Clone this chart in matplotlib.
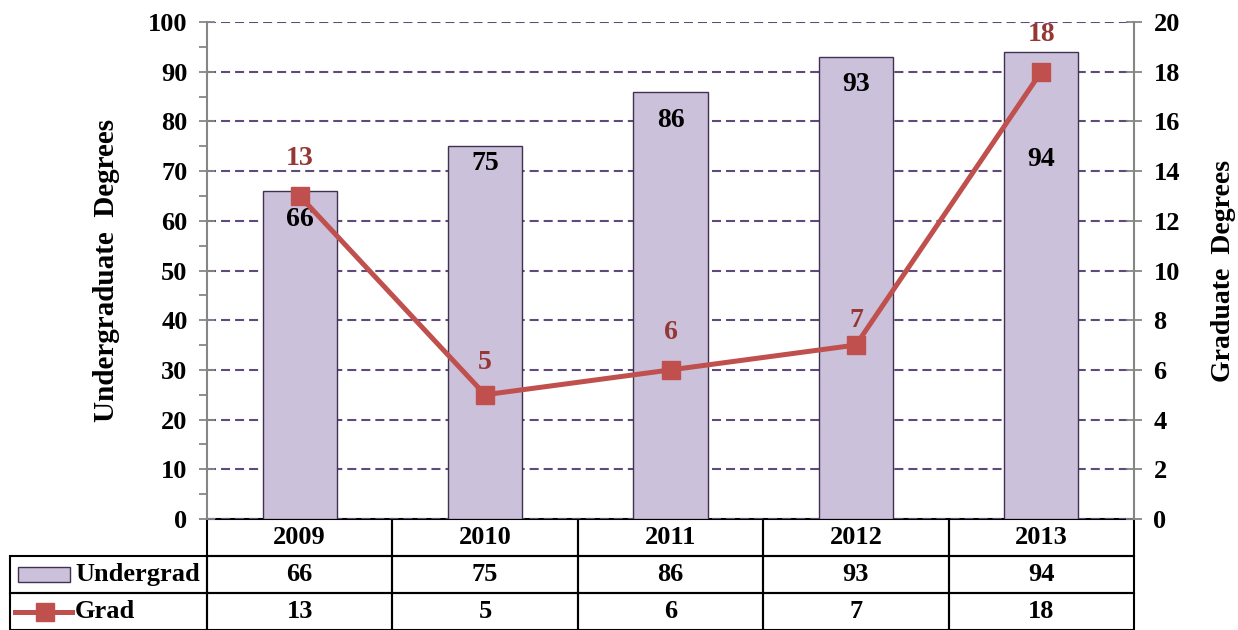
import matplotlib
matplotlib.use('Agg')
import matplotlib.pyplot as plt
from matplotlib.patches import Rectangle
from matplotlib.lines import Line2D
from matplotlib.table import Table
from matplotlib.ticker import MultipleLocator

plt.rcParams['font.family'] = ['Liberation Serif', 'DejaVu Serif']
plt.rcParams['font.weight'] = 'bold'
plt.rcParams['lines.scale_dashes'] = False

years = ['2009', '2010', '2011', '2012', '2013']
undergrad = [66, 75, 86, 93, 94]
grad = [13, 5, 6, 7, 18]
series_names = ['Undergrad', 'Grad']

bar_fill = '#CCC1DA'
bar_edge = '#403152'
line_col = '#C0504D'
grad_lbl = '#953735'
grid_col = '#604A7B'
spine_col = '#868686'

W, H = 1238, 630
fig = plt.figure(figsize=(W / 100, H / 100), dpi=100)
ax = fig.add_axes([207 / W, 1 - 519 / H, (1134 - 207) / W, (519 - 22) / H])
x = list(range(len(years)))

ax.bar(x, undergrad, width=0.4, color=bar_fill, edgecolor=bar_edge, linewidth=1, zorder=2)
ax.set_xlim(-0.5, len(years) - 0.5)
ax.set_ylim(0, 100)
ax.yaxis.set_major_locator(MultipleLocator(10))
ax.yaxis.set_minor_locator(MultipleLocator(5))
ax.set_xticks([])
ax.grid(axis='y', color=grid_col, linestyle=(0, (6.5, 3.6)), linewidth=1.5, zorder=0)
ax.set_axisbelow(True)
ax.tick_params(axis='y', which='major', direction='inout', length=12, width=1.3,
               color=spine_col, labelsize=19, pad=8)
ax.tick_params(axis='y', which='minor', direction='out', length=6, width=1.3, color=spine_col)
for s in ('top', 'bottom', 'right'):
    ax.spines[s].set_visible(False)
ax.spines['left'].set_color(spine_col)
ax.spines['left'].set_linewidth(1.5)
ax.set_ylabel('Undergraduate  Degrees', fontsize=21, fontweight='bold', labelpad=20)

# labels inside bars (Excel nudged some of them)
ub_offsets = [-29, -17, -29, -28, -108]
for xi, v, off in zip(x, undergrad, ub_offsets):
    ax.annotate(str(v), (xi, v), xytext=(0, off), textcoords='offset pixels',
                ha='center', va='center', fontsize=20, fontweight='bold', color='black')

ax2 = ax.twinx()
ax2.plot(x, grad, color=line_col, linewidth=3.6, marker='s', markersize=13.5,
         markerfacecolor=line_col, markeredgecolor=line_col, zorder=3)
ax2.set_ylim(0, 20)
ax2.yaxis.set_major_locator(MultipleLocator(2))
ax2.tick_params(axis='y', which='major', direction='inout', length=12, width=1.3,
                color=spine_col, labelsize=19, pad=8)
for s in ('top', 'bottom', 'left'):
    ax2.spines[s].set_visible(False)
ax2.spines['right'].set_color(spine_col)
ax2.spines['right'].set_linewidth(1.5)
ax2.set_ylabel('Graduate  Degrees', fontsize=20, fontweight='bold', labelpad=22)

gr_offsets = [37, 32, 37, 25, 37]
for xi, v, off in zip(x, grad, gr_offsets):
    ax2.annotate(str(v), (xi, v), xytext=(0, off), textcoords='offset pixels',
                 ha='center', va='center', fontsize=20, fontweight='bold', color=grad_lbl)

# data table under the plot (row-label column sits left of the bbox);
# cell sizes are given in axes units so the bbox scale stays 1
ax_w_px = 1134 - 207
col_w = 1 / len(years)
rl_w = 197 / ax_w_px
tab_h = 111 / (519 - 22)
row_h = tab_h / 3
tab = Table(ax, bbox=[0, -tab_h, 1, tab_h])
tab.auto_set_font_size(False)
rows = [years, [str(v) for v in undergrad], [str(v) for v in grad]]
for r, vals in enumerate(rows):
    for c, t in enumerate(vals):
        tab.add_cell(r, c, width=col_w, height=row_h, text=t, loc='center')
    if r > 0:
        tab.add_cell(r, -1, width=rl_w, height=row_h, text=series_names[r - 1], loc='left')
for (r, c), cell in tab.get_celld().items():
    cell.set_edgecolor('black')
    cell.set_linewidth(1.5)
    cell.set_facecolor('none')
    cell.get_text().set_fontsize(19)
    cell.get_text().set_fontweight('bold')
    if c == -1:
        cell.PAD = 65 / 197
ax.add_table(tab)

# legend keys in the table row labels
fig.add_artist(Rectangle((18 / W, 1 - 582 / H), 52 / W, 15 / H, transform=fig.transFigure,
                         facecolor=bar_fill, edgecolor=bar_edge, linewidth=1))
fig.add_artist(Line2D([15 / W, 72 / W], [1 - 612 / H] * 2, transform=fig.transFigure,
                      color=line_col, linewidth=3.6))
fig.add_artist(Line2D([45 / W], [1 - 612 / H], transform=fig.transFigure,
                      marker='s', markersize=13, color=line_col))

fig.savefig('out.png', dpi=100)
